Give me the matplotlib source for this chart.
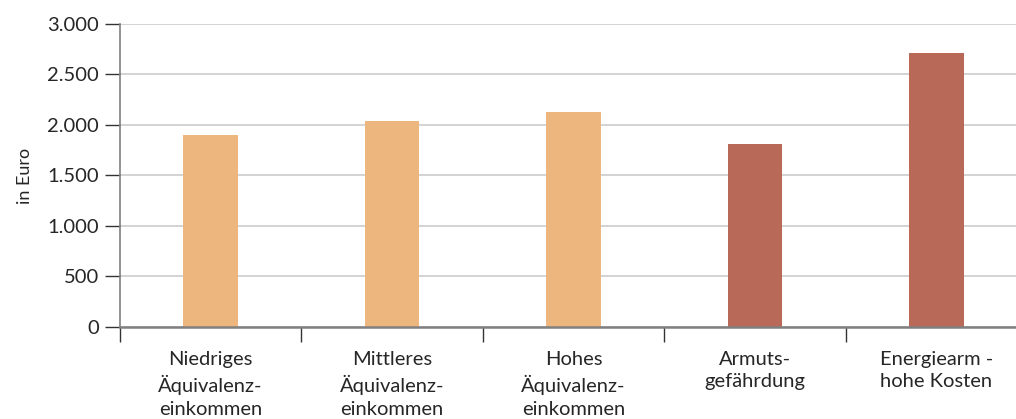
import numpy as np
import matplotlib
matplotlib.use("Agg")
import matplotlib.pyplot as plt

# Werte
categories = ["Niedriges\nÄquivalenz-\neinkommen", "Mittleres\nÄquivalenz-\neinkommen",
              "Hohes\nÄquivalenz-\neinkommen", "Armuts-\ngefährdung", "Energiearm -\nhohe Kosten"]
values = [1900, 2040, 2130, 1810, 2715]
colors = ["#EDB67F", "#EDB67F", "#EDB67F", "#B86957", "#B86957"]
yticks = [0, 500, 1000, 1500, 2000, 2500, 3000]
ytick_labels = ["0", "500", "1.000", "1.500", "2.000", "2.500", "3.000"]

plt.rcParams['font.family'] = ['Lato', 'DejaVu Sans']

fig = plt.figure(figsize=(10.16, 4.19), dpi=100)
ax = fig.add_axes([0.118, 0.2196, 0.893, 0.7232])

x = np.arange(len(categories))
ax.bar(x, values, width=0.30, color=colors, zorder=3)

ax.set_xlim(-0.5, len(categories) - 0.5)
ax.set_ylim(0, 3000)
ax.set_yticks(yticks)
ax.set_yticklabels(ytick_labels, fontsize=14.5, color="#262626")
ax.yaxis.grid(True, color="#CCCCCC", linewidth=1.2, zorder=0)

# Kategorie-Beschriftungen mittig, Teilstriche an den Grenzen
ax.set_xticks(x)
ax.set_xticklabels(categories, fontsize=14.5, color="#262626", linespacing=1.42)
ax.tick_params(axis="x", which="major", length=0, pad=17)
ax.set_xticks(np.arange(-0.5, len(categories), 1.0), minor=True)
ax.tick_params(axis="x", which="minor", length=11, width=1, color="#333333")
ax.tick_params(axis="y", length=11, width=1, color="#333333", pad=4)

for s in ["top", "right"]:
    ax.spines[s].set_visible(False)
ax.spines["left"].set_color("#808080")
ax.spines["left"].set_linewidth(1.2)
ax.spines["bottom"].set_color("#808080")
ax.spines["bottom"].set_linewidth(1.8)
ax.spines["bottom"].set_zorder(4)

ax.set_ylabel("in Euro", fontsize=13, color="#262626", labelpad=10)

fig.savefig("out.png", dpi=100)
